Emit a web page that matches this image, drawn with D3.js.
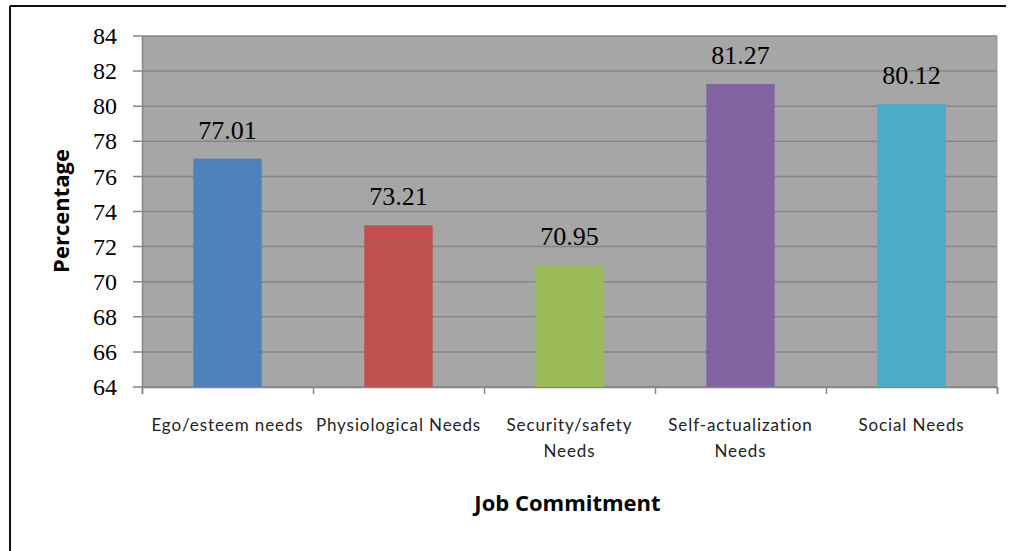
<!DOCTYPE html>
<html><head><meta charset="utf-8">
<script src="https://cdn.jsdelivr.net/npm/d3@7"></script>
<style>body{margin:0;background:#fff}svg{display:block}</style>
</head><body>
<script>
const categories = ["Ego/esteem needs","Physiological Needs","Security/safety Needs","Self-actualization Needs","Social Needs"];
const labelLines = [["Ego/esteem needs"],["Physiological Needs"],["Security/safety","Needs"],["Self-actualization","Needs"],["Social Needs"]];
const values = [77.01, 73.21, 70.95, 81.27, 80.12];
const colors = ["#4f81bd","#c0504d","#9bbb59","#8064a2","#4bacc6"];
const yTicks = [64,66,68,70,72,74,76,78,80,82,84];

const W = 1011, H = 551;
const m = {left:142, right:1011-997, top:36, bottom:551-387};
const svg = d3.select("body").append("svg").attr("width",W).attr("height",H);

// outer frame
svg.append("line").attr("x1",10).attr("x2",1006).attr("y1",6).attr("y2",6).attr("stroke","#111").attr("stroke-width",2);
svg.append("line").attr("x1",10).attr("x2",10).attr("y1",6).attr("y2",H).attr("stroke","#111").attr("stroke-width",2);

const x = d3.scaleBand().domain(categories).range([m.left, W-m.right]).paddingInner(0.6).paddingOuter(0.3);
const y = d3.scaleLinear().domain([64,84]).range([H-m.bottom, m.top]);

svg.append("rect").attr("x",m.left).attr("y",m.top).attr("width",W-m.right-m.left).attr("height",H-m.bottom-m.top).attr("fill","#a6a6a6");

// gridlines
svg.append("g").selectAll("line").data(yTicks).join("line")
  .attr("x1",m.left-9).attr("x2",W-m.right).attr("y1",d=>y(d)).attr("y2",d=>y(d))
  .attr("stroke","#868686").attr("stroke-width",1.5);

// right border of plot
svg.append("line").attr("x1",W-m.right).attr("x2",W-m.right).attr("y1",m.top).attr("y2",H-m.bottom).attr("stroke","#9a9a9a");

// bars
svg.append("g").selectAll("rect").data(values).join("rect")
  .attr("x",(d,i)=>x(categories[i])).attr("width",x.bandwidth())
  .attr("y",d=>y(d)).attr("height",d=>y(64)-y(d)).attr("fill",(d,i)=>colors[i]);

// y axis
const ya = svg.append("g").attr("transform",`translate(${m.left},0)`)
  .call(d3.axisLeft(y).tickValues(yTicks).tickSize(0).tickPadding(25));
ya.select(".domain").attr("stroke","#868686").attr("stroke-width",1.5);
ya.selectAll("text").attr("font-family","Liberation Serif, serif").attr("font-size",24).attr("fill","#000");

// x axis
const xb = d3.scaleLinear().domain([0,5]).range([m.left, W-m.right]);
const xa = svg.append("g").attr("transform",`translate(0,${H-m.bottom})`)
  .call(d3.axisBottom(xb).ticks(5).tickSize(7).tickFormat(""));
xa.select(".domain").attr("stroke","#868686").attr("stroke-width",1.5);
xa.selectAll(".tick line").attr("stroke","#868686").attr("stroke-width",1.5);

// category labels
const cl = svg.append("g").selectAll("text").data(labelLines).join("text")
  .attr("x",(d,i)=>x(categories[i])+x.bandwidth()/2).attr("y",431)
  .attr("text-anchor","middle").attr("font-family","Lato, sans-serif").attr("font-size",17)
  .attr("letter-spacing",0.9).attr("fill","#222");
cl.selectAll("tspan").data(d=>d).join("tspan")
  .attr("x",function(){return d3.select(this.parentNode).attr("x");})
  .attr("dy",(d,i)=>i?26:0).text(d=>d);

// value labels
svg.append("g").selectAll("text").data(values).join("text")
  .attr("x",(d,i)=>x(categories[i])+x.bandwidth()/2).attr("y",d=>y(d)-20)
  .attr("text-anchor","middle").attr("font-family","Liberation Serif, serif").attr("font-size",26).attr("fill","#000")
  .text(d=>d.toFixed(2));

// axis titles
svg.append("text").attr("x",(m.left+W-m.right)/2-2).attr("y",511).attr("text-anchor","middle")
  .attr("font-family","Open Sans, sans-serif").attr("font-weight","bold").attr("font-size",22).attr("fill","#000").text("Job Commitment");
svg.append("text").attr("transform","translate(69,211) rotate(-90)").attr("text-anchor","middle")
  .attr("font-family","Open Sans, sans-serif").attr("font-weight","bold").attr("font-size",22).attr("fill","#000").text("Percentage");
</script>
</body></html>
